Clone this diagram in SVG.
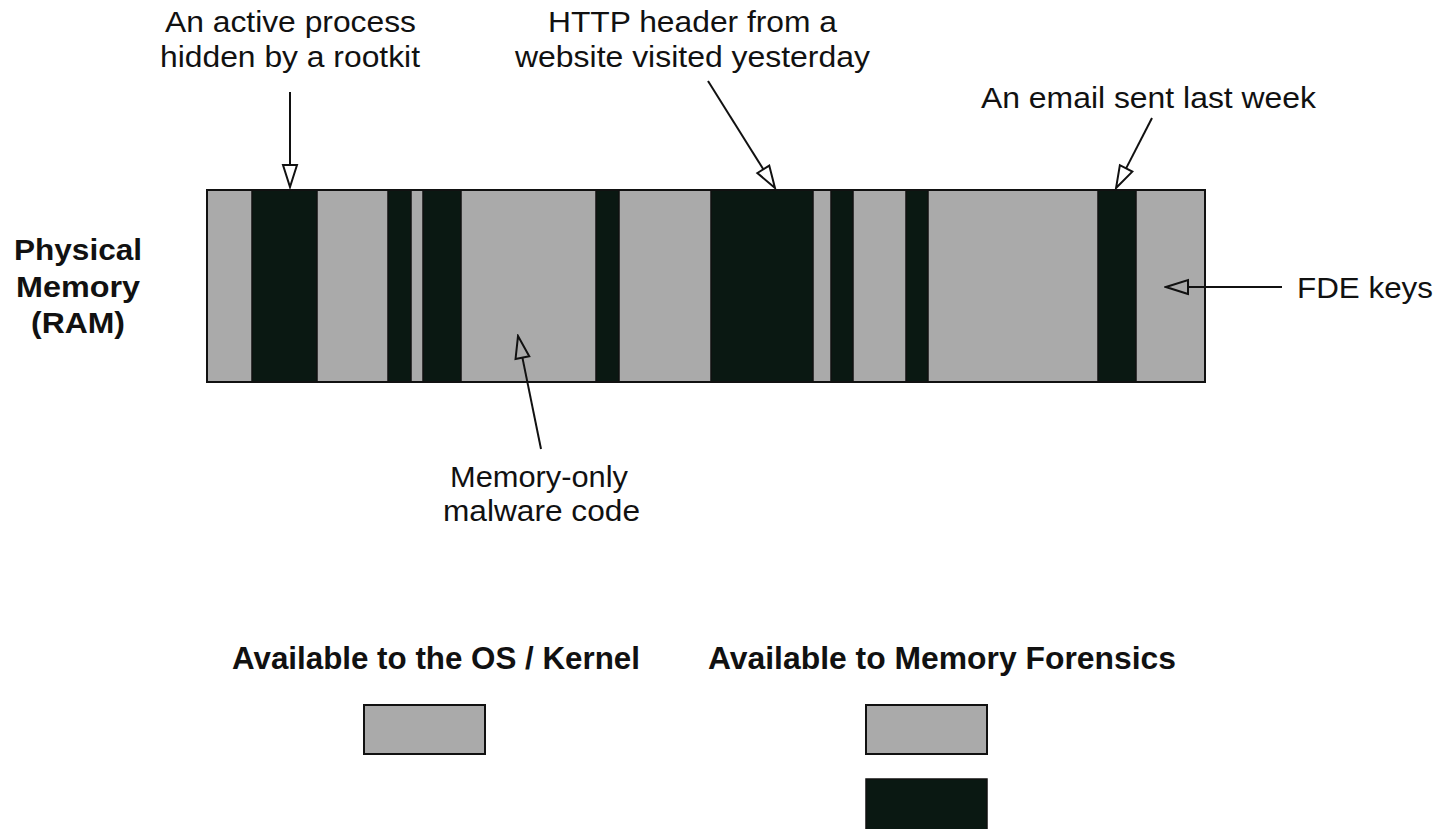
<svg xmlns="http://www.w3.org/2000/svg" width="1443" height="829" viewBox="0 0 1443 829">
<style>
text{font-family:"Liberation Sans",Arial,sans-serif;fill:#111;}
.t{font-size:29px;}
.b{font-size:30px;font-weight:bold;}
.lg{font-size:31px;font-weight:bold;}
.g{fill:#aaaaaa;stroke:#111;stroke-width:2;}
.d{fill:#0a1812;stroke:#111;stroke-width:1.5;}
.c{stroke:#111;stroke-width:2;fill:none;marker-end:url(#ah);}
</style>
<defs>
<marker id="ah" viewBox="-2 -9 26 18" markerWidth="26" markerHeight="18" refX="0" refY="0" markerUnits="userSpaceOnUse" orient="auto">
<path d="M0,-7 L22,0 L0,7 Z" fill="none" stroke="#111" stroke-width="2" stroke-linejoin="miter"/>
</marker>
</defs>
<rect width="1443" height="829" fill="#fff"/>
<g id="ram">
<rect class="g" x="207" y="190" width="998" height="192"/>
<rect class="d" x="252" y="190" width="65" height="192"/>
<rect class="d" x="388" y="190" width="23" height="192"/>
<rect class="d" x="423" y="190" width="38" height="192"/>
<rect class="d" x="596" y="190" width="23" height="192"/>
<rect class="d" x="711" y="190" width="102" height="192"/>
<rect class="d" x="831" y="190" width="22" height="192"/>
<rect class="d" x="906" y="190" width="22" height="192"/>
<rect class="d" x="1098" y="190" width="38" height="192"/>
<rect x="207" y="190" width="998" height="192" fill="none" stroke="#111" stroke-width="2"/>
</g>
<g id="ram-label">
<text class="b" x="78" y="260" text-anchor="middle" textLength="128" lengthAdjust="spacingAndGlyphs">Physical</text>
<text class="b" x="78" y="297" text-anchor="middle" textLength="124" lengthAdjust="spacingAndGlyphs">Memory</text>
<text class="b" x="78" y="333" text-anchor="middle" textLength="94" lengthAdjust="spacingAndGlyphs">(RAM)</text>
</g>
<g id="connectors">
<line class="c" x1="290" y1="92" x2="290" y2="165"/>
<line class="c" x1="708" y1="81" x2="763.3" y2="169.3"/>
<line class="c" x1="1152" y1="118" x2="1126.1" y2="168.4"/>
<line class="c" x1="1282" y1="287" x2="1188" y2="287"/>
<line class="c" x1="541" y1="449" x2="522.4" y2="357.6"/>
</g>
<g id="label-rootkit">
<text class="t" x="290.5" y="32" text-anchor="middle" textLength="251" lengthAdjust="spacingAndGlyphs">An active process</text>
<text class="t" x="290" y="67" text-anchor="middle" textLength="260" lengthAdjust="spacingAndGlyphs">hidden by a rootkit</text>
</g>
<g id="label-http">
<text class="t" x="692.5" y="32" text-anchor="middle" textLength="289" lengthAdjust="spacingAndGlyphs">HTTP header from a</text>
<text class="t" x="692.5" y="67" text-anchor="middle" textLength="355" lengthAdjust="spacingAndGlyphs">website visited yesterday</text>
</g>
<g id="label-email">
<text class="t" x="1148.5" y="108" text-anchor="middle" textLength="335" lengthAdjust="spacingAndGlyphs">An email sent last week</text>
</g>
<g id="label-fde">
<text class="t" x="1297" y="298" textLength="136" lengthAdjust="spacingAndGlyphs">FDE keys</text>
</g>
<g id="label-malware">
<text class="t" x="539" y="487" text-anchor="middle" textLength="178" lengthAdjust="spacingAndGlyphs">Memory-only</text>
<text class="t" x="541.5" y="521" text-anchor="middle" textLength="197" lengthAdjust="spacingAndGlyphs">malware code</text>
</g>
<g id="legend-os">
<text class="lg" x="436" y="669" text-anchor="middle" textLength="408" lengthAdjust="spacingAndGlyphs">Available to the OS / Kernel</text>
<rect class="g" x="364" y="705" width="121" height="49"/>
</g>
<g id="legend-forensics">
<text class="lg" x="942" y="669" text-anchor="middle" textLength="468" lengthAdjust="spacingAndGlyphs">Available to Memory Forensics</text>
<rect class="g" x="866" y="705" width="121" height="49"/>
<rect class="d" x="866" y="779" width="121" height="52"/>
</g>
</svg>
